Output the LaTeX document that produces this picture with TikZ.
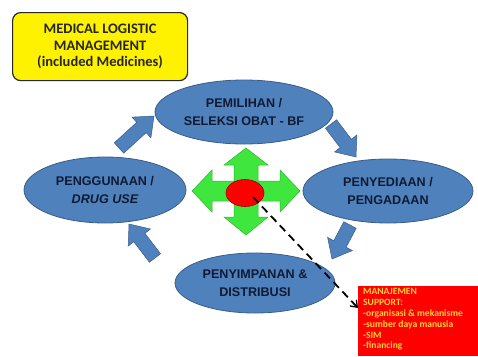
\documentclass[tikz,border=0pt]{standalone}
\usepackage{fontspec}
\setmainfont{Liberation Sans}
\newfontfamily\calfont{Carlito}
\usetikzlibrary{shapes.geometric,arrows.meta,calc}
\definecolor{ellfill}{HTML}{4F81BD}
\definecolor{elldraw}{HTML}{385D8A}
\definecolor{elltext}{HTML}{101A33}
\definecolor{quadgreen}{HTML}{3EE63E}
\definecolor{quadgreendraw}{HTML}{2DB82D}
\definecolor{supptext}{HTML}{FFD633}
\definecolor{titletext}{HTML}{262626}
\tikzset{
  stageell/.style={ellipse, draw=elldraw, line width=0.8pt, fill=ellfill, text=elltext,
    font=\fontsize{12.6}{18}\selectfont\bfseries, align=center, inner sep=0pt},
  cyclearrow/.style={fill=ellfill, draw=elldraw, line width=0.5pt},
}
\newcommand\blockarr[5]{% tail, head, shaft half, head half, head length
  \path let \p1=($(#2)!#5!(#1)$) in coordinate (bp) at (\p1);
  \filldraw[cyclearrow] ($(#1)!#3!90:(#2)$) -- ($(bp)!#3!-90:(#1)$) -- ($(bp)!#4!-90:(#1)$) -- (#2)
    -- ($(bp)!#4!90:(#1)$) -- ($(bp)!#3!90:(#1)$) -- ($(#1)!#3!-90:(#2)$) -- cycle;
}
\begin{document}
\begin{tikzpicture}[x=1pt,y=-1pt]
\useasboundingbox (0,0) rectangle (478,356);
% title box
\node[draw=black!85, line width=1.2pt, fill=yellow, rounded corners=8pt, minimum width=175pt,
  minimum height=68pt, anchor=north west, align=center, text=titletext,
  font=\calfont\bfseries\fontsize{14.5}{16.5}\selectfont, inner sep=0pt] (title) at (12,12)
  {MEDICAL LOGISTIC\\MANAGEMENT\\(included Medicines)};
% stage ellipses
\node[stageell, minimum width=178pt, minimum height=64pt] (sel) at (244,112) {PEMILIHAN /\\SELEKSI OBAT - BF};
\node[stageell, minimum width=170pt, minimum height=64pt] (prov) at (388,191) {PENYEDIAAN /\\PENGADAAN};
\node[stageell, minimum width=160pt, minimum height=60pt] (stor) at (255,283) {PENYIMPANAN \&\\DISTRIBUSI};
\node[stageell, minimum width=162pt, minimum height=66pt] (use) at (105,190) {PENGGUNAAN /\\\itshape DRUG USE};
% cycle arrows
\coordinate (a1t) at (119,148); \coordinate (a1h) at (154,116);
\coordinate (a2t) at (331,124); \coordinate (a2h) at (356,157);
\coordinate (a3t) at (350,225); \coordinate (a3h) at (332,259);
\coordinate (a4t) at (155,258); \coordinate (a4h) at (129,224);
\blockarr{a1t}{a1h}{7pt}{14pt}{17pt}
\blockarr{a2t}{a2h}{7pt}{14pt}{17pt}
\blockarr{a3t}{a3h}{7pt}{14pt}{17pt}
\blockarr{a4t}{a4h}{7pt}{14pt}{17pt}
% quad arrow
\coordinate (qc) at (246,191);
\filldraw[fill=quadgreen, draw=quadgreendraw, line width=0.5pt, shift={(qc)}]
  (0,-43) -- (22,-26) -- (12,-26) -- (12,-10) -- (34,-10) -- (34,-21) -- (54,0) -- (34,21)
  -- (34,10) -- (12,10) -- (12,26) -- (22,26) -- (0,44) -- (-22,26) -- (-12,26) -- (-12,10)
  -- (-34,10) -- (-34,21) -- (-54,0) -- (-34,-21) -- (-34,-10) -- (-12,-10) -- (-12,-26)
  -- (-22,-26) -- cycle;
\node[ellipse, fill=red, draw=red!60!black, line width=0.6pt, minimum width=38pt, minimum height=27pt, inner sep=0pt] (core) at (245,193) {};
% support box
\node[fill=red, anchor=north west, minimum width=120pt, minimum height=70pt, inner sep=0pt] (supp) at (358,286) {};
\node[anchor=north west, align=left, text=supptext, inner sep=0pt,
  font=\calfont\bfseries\fontsize{9.6}{10.9}\selectfont] (supptxt) at (363,288)
  {MANAJEMEN\\SUPPORT:\\-organisasi \& mekanisme\\-sumber daya manusia\\-SIM\\-financing};
% dashed connector
\coordinate (dstart) at (253,197);
\coordinate (dend) at (358,308);
\draw[line width=1.8pt, dash pattern=on 8pt off 5pt, -{Straight Barb[length=6pt,width=9pt,line width=1.3pt]}] (dstart) -- (dend);
\end{tikzpicture}
\end{document}
